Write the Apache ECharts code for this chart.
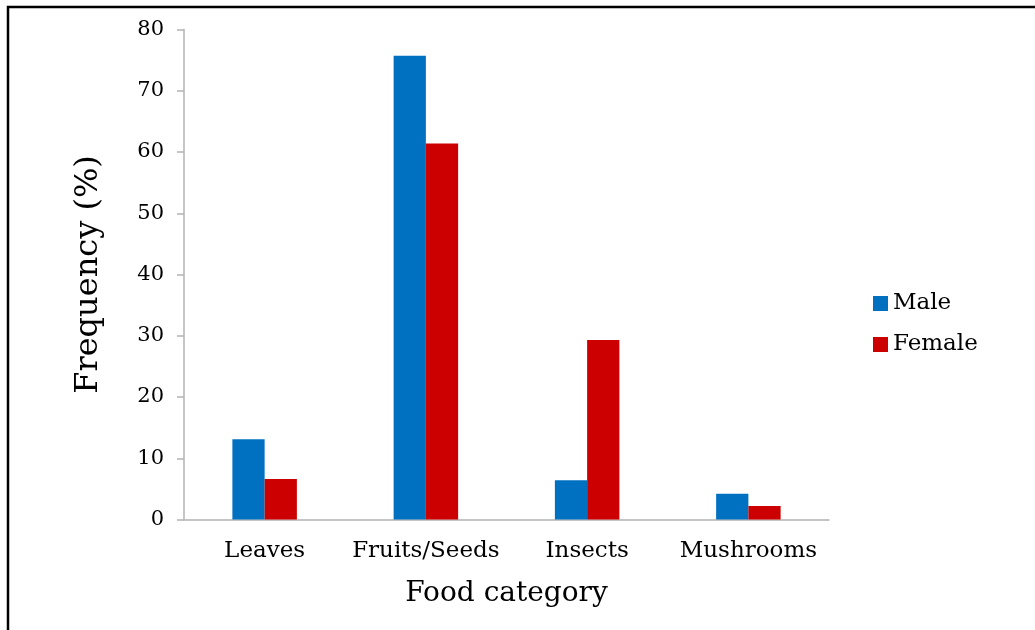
<!DOCTYPE html>
<html>
<head>
<meta charset="utf-8">
<script src="https://cdn.jsdelivr.net/npm/echarts@6/dist/echarts.min.js"></script>
<style>
  html, body { margin: 0; padding: 0; background: #fff; }
  #chart { width: 1035px; height: 630px; }
</style>
</head>
<body>
<div id="chart"></div>
<script>
// Food categories and diet frequency (%) by sex
const categories = ['Leaves', 'Fruits/Seeds', 'Insects', 'Mushrooms'];
const maleValues = [13.1, 75.7, 6.4, 4.2];
const femaleValues = [6.6, 61.4, 29.3, 2.2];
const yTicks = { min: 0, max: 80, interval: 10 };

const serif = '"DejaVu Serif", "Liberation Serif", serif';

const chart = echarts.init(document.getElementById('chart'), null, { renderer: 'canvas' });
chart.setOption({
  backgroundColor: '#fff',
  animation: false,
  grid: { left: 184, right: 206, top: 29.5, bottom: 110.5, containLabel: false },
  legend: {
    orient: 'vertical',
    left: 873,
    top: 292,
    padding: 0,
    itemWidth: 15,
    itemHeight: 15,
    itemGap: 18,
    icon: 'rect',
    textStyle: { fontFamily: serif, fontSize: 23, color: '#000' },
    data: ['Male', 'Female']
  },
  xAxis: {
    type: 'category',
    data: categories,
    name: 'Food category',
    nameLocation: 'middle',
    nameGap: 60,
    nameTextStyle: { fontFamily: serif, fontSize: 28, color: '#000' },
    axisLine: { show: true, lineStyle: { color: '#b3b3b3', width: 1.5 } },
    axisTick: { show: false },
    axisLabel: { interval: 0, fontFamily: serif, fontSize: 23, color: '#000', margin: 20 }
  },
  yAxis: {
    type: 'value',
    min: yTicks.min,
    max: yTicks.max,
    interval: yTicks.interval,
    name: 'Frequency (%)',
    nameLocation: 'middle',
    nameGap: 79,
    nameTextStyle: { fontFamily: serif, fontSize: 32, color: '#000' },
    axisLine: { show: true, lineStyle: { color: '#b3b3b3', width: 1.5 } },
    axisTick: { show: true, length: 7, lineStyle: { color: '#b3b3b3', width: 1.5 } },
    splitLine: { show: false },
    axisLabel: { fontFamily: serif, fontSize: 21, color: '#000', margin: 20 }
  },
  series: [
    {
      name: 'Male',
      type: 'bar',
      data: maleValues,
      barGap: '0%',
      barCategoryGap: '60%',
      itemStyle: { color: '#0070C0' }
    },
    {
      name: 'Female',
      type: 'bar',
      data: femaleValues,
      barGap: '0%',
      barCategoryGap: '60%',
      itemStyle: { color: '#CC0000' }
    }
  ],
  graphic: [
    {
      type: 'polyline',
      shape: { points: [[8, 630], [8, 7], [1035, 7]] },
      style: { stroke: '#000', lineWidth: 2.5, fill: null },
      silent: true
    }
  ]
});
</script>
</body>
</html>
